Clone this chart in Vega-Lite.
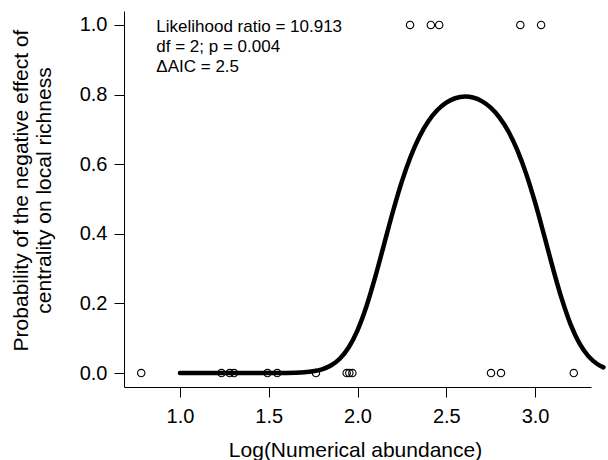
{
  "$schema": "https://vega.github.io/schema/vega-lite/v6.json",
  "width": 467,
  "height": 376,
  "autosize": "none",
  "padding": {"left": 124, "top": 11, "right": 17, "bottom": 73},
  "background": "white",
  "config": {"view": {"stroke": null}, "font": "Liberation Sans"},
  "datasets": {
    "obs": [
      {"abund": 0.782, "neg": 0}, {"abund": 1.234, "neg": 0}, {"abund": 1.28, "neg": 0},
      {"abund": 1.305, "neg": 0}, {"abund": 1.493, "neg": 0}, {"abund": 1.548, "neg": 0},
      {"abund": 1.766, "neg": 0}, {"abund": 1.939, "neg": 0}, {"abund": 1.954, "neg": 0},
      {"abund": 1.971, "neg": 0}, {"abund": 2.752, "neg": 0}, {"abund": 2.808, "neg": 0},
      {"abund": 3.218, "neg": 0}, {"abund": 2.296, "neg": 1}, {"abund": 2.413, "neg": 1},
      {"abund": 2.46, "neg": 1}, {"abund": 2.917, "neg": 1}, {"abund": 3.034, "neg": 1}
    ],
    "fit": [
      {"abund": 1.0, "p": 0.0}, {"abund": 1.1, "p": 0.0}, {"abund": 1.2, "p": 0.0000001},
      {"abund": 1.3, "p": 0.0000008}, {"abund": 1.4, "p": 0.0000078}, {"abund": 1.5, "p": 0.000063},
      {"abund": 1.6, "p": 0.00042}, {"abund": 1.65, "p": 0.00102}, {"abund": 1.7, "p": 0.00235},
      {"abund": 1.75, "p": 0.0052}, {"abund": 1.8, "p": 0.0109}, {"abund": 1.85, "p": 0.0217},
      {"abund": 1.9, "p": 0.0411}, {"abund": 1.95, "p": 0.0734}, {"abund": 2.0, "p": 0.1228},
      {"abund": 2.05, "p": 0.1912}, {"abund": 2.1, "p": 0.2763}, {"abund": 2.15, "p": 0.3705},
      {"abund": 2.2, "p": 0.4648}, {"abund": 2.25, "p": 0.5506}, {"abund": 2.3, "p": 0.6229},
      {"abund": 2.35, "p": 0.6805}, {"abund": 2.4, "p": 0.7239}, {"abund": 2.45, "p": 0.7555},
      {"abund": 2.5, "p": 0.7768}, {"abund": 2.55, "p": 0.7894}, {"abund": 2.607, "p": 0.7941},
      {"abund": 2.65, "p": 0.7914}, {"abund": 2.7, "p": 0.7811}, {"abund": 2.75, "p": 0.7624},
      {"abund": 2.8, "p": 0.734}, {"abund": 2.85, "p": 0.694}, {"abund": 2.9, "p": 0.6404},
      {"abund": 2.95, "p": 0.5722}, {"abund": 3.0, "p": 0.49}, {"abund": 3.05, "p": 0.3975},
      {"abund": 3.1, "p": 0.3022}, {"abund": 3.15, "p": 0.2137}, {"abund": 3.2, "p": 0.14},
      {"abund": 3.25, "p": 0.0853}, {"abund": 3.3, "p": 0.0487}, {"abund": 3.35, "p": 0.0261},
      {"abund": 3.385, "p": 0.0163}
    ],
    "note": [
      {"abund": 0.867, "p": 0.981, "label": ["Likelihood ratio = 10.913", "df = 2; p = 0.004", "ΔAIC = 2.5"]}
    ]
  },
  "layer": [
    {
      "data": {"name": "obs"},
      "mark": {"type": "point", "shape": "circle", "filled": false, "size": 55, "stroke": "black", "strokeWidth": 1.1, "opacity": 1},
      "encoding": {
        "x": {
          "field": "abund", "type": "quantitative",
          "scale": {"domain": [0.685, 3.315], "nice": false, "zero": false},
          "axis": {
            "title": "Log(Numerical abundance)",
            "values": [1, 1.5, 2, 2.5, 3], "format": ".1f", "grid": false,
            "tickSize": 10, "tickColor": "black", "domainColor": "black",
            "labelColor": "black", "labelFontSize": 20, "labelPadding": 25, "labelBaseline": "alphabetic", "labelFlush": false,
            "titleColor": "black", "titleFontSize": 21, "titleFontWeight": "normal",
            "titleBaseline": "alphabetic", "titleX": 231, "titleY": 69.5
          }
        },
        "y": {
          "field": "neg", "type": "quantitative",
          "scale": {"domain": [-0.04, 1.04], "nice": false, "zero": false},
          "axis": {
            "title": ["Probability of the negative effect of", "centrality on local richness"],
            "values": [0, 0.2, 0.4, 0.6, 0.8, 1.0], "format": ".1f", "grid": false,
            "tickSize": 10, "tickColor": "black", "domainColor": "black",
            "labelColor": "black", "labelFontSize": 20, "labelPadding": 7, "labelFlush": false,
            "titleColor": "black", "titleFontSize": 21, "titleFontWeight": "normal", "titleLineHeight": 23,
            "titleAngle": 270, "titleAlign": "center", "titleBaseline": "alphabetic", "titleX": -97, "titleY": 179
          }
        }
      }
    },
    {
      "data": {"name": "fit"},
      "mark": {"type": "line", "color": "black", "strokeWidth": 4.5, "strokeCap": "round", "strokeJoin": "round", "interpolate": "monotone"},
      "encoding": {
        "x": {"field": "abund", "type": "quantitative"},
        "y": {"field": "p", "type": "quantitative"}
      }
    },
    {
      "data": {"name": "note"},
      "mark": {"type": "text", "align": "left", "baseline": "alphabetic", "fontSize": 17, "lineHeight": 20, "color": "black"},
      "encoding": {
        "x": {"field": "abund", "type": "quantitative"},
        "y": {"field": "p", "type": "quantitative"},
        "text": {"field": "label"}
      }
    }
  ]
}
